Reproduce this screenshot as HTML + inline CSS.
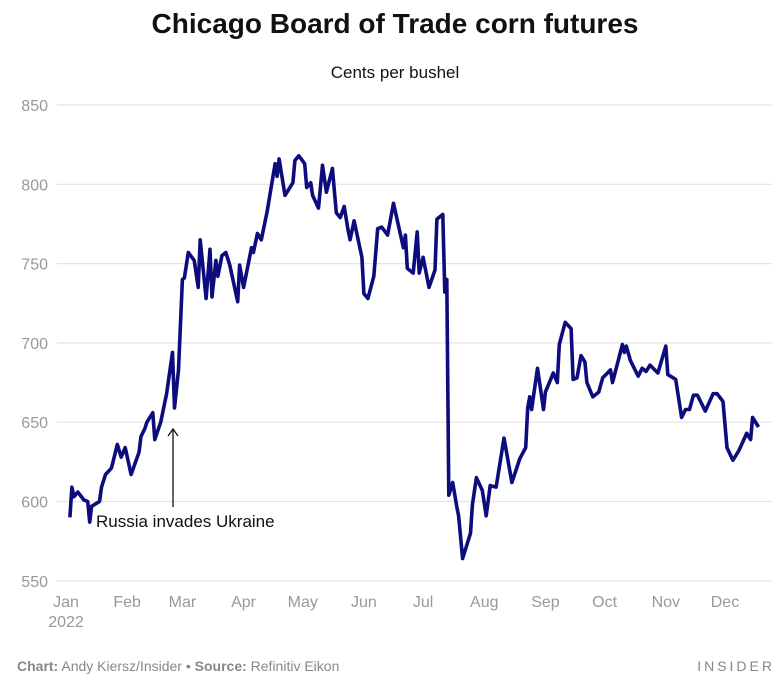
<!DOCTYPE html>
<html><head><meta charset="utf-8"><style>
body{margin:0;background:#fff;width:784px;height:683px;overflow:hidden;font-family:"Liberation Sans",sans-serif}
</style></head><body>
<svg id="chart" width="784" height="683" xmlns="http://www.w3.org/2000/svg" font-family="Liberation Sans, sans-serif">
<text x="395" y="33" text-anchor="middle" font-size="28" font-weight="bold" fill="#111">Chicago Board of Trade corn futures</text>
<text x="395" y="78" text-anchor="middle" font-size="17" fill="#111">Cents per bushel</text>
<g id="grid"></g><g id="yticks"></g><g id="xticks"></g>
<path id="line" fill="none" stroke="#0c0c7c" stroke-width="3.6" stroke-linejoin="round"/>
<g>
<line x1="173" y1="507" x2="173" y2="430" stroke="#111" stroke-width="1.3"/>
<polyline points="168,436 173,429 178,436" fill="none" stroke="#111" stroke-width="1.3"/>
<text x="96" y="527" font-size="17" fill="#111">Russia invades Ukraine</text>
</g>
<text x="66" y="627" text-anchor="middle" font-size="16" fill="#999">2022</text>
<text x="17" y="671" font-size="14" fill="#888"><tspan font-weight="bold">Chart:</tspan> Andy Kiersz/Insider • <tspan font-weight="bold">Source:</tspan> Refinitiv Eikon</text>
<text x="775" y="671" text-anchor="end" font-size="14" letter-spacing="3" fill="#888">INSIDER</text>
</svg>
<script>
const days=[2,3,4,6,9,11,12,13,17,18,20,23,24,26,28,30,33,37,38,40,41,44,45,48,51,54,55,57,59,60,62,65,67,68,71,73,74,76,77,79,81,83,87,88,90,94,95,97,99,102,106,107,108,111,115,116,118,121,122,124,125,128,130,132,135,137,139,141,143,144,146,150,151,153,156,158,160,163,166,171,172,173,176,178,179,181,184,187,188,191,192,193,194,196,198,199,201,205,206,208,211,213,215,218,222,226,230,233,234,235,236,239,242,243,247,249,250,253,256,257,259,261,263,264,267,270,272,276,277,282,283,284,286,290,292,294,296,300,304,305,309,312,314,316,318,320,324,328,330,333,335,338,341,345,347,348,351];
const prices=[590,609,603,606,601,600,587,597,600,609,617,621,626,636,628,634,617,631,641,646,650,656,639,650,668,694,659,683,740,741,757,752,735,765,728,759,729,752,742,755,757,749,726,749,735,760,757,769,765,783,813,805,816,793,801,815,818,813,798,801,793,785,812,795,810,782,779,786,771,765,777,754,731,728,742,772,773,768,788,760,768,747,744,770,744,754,735,746,778,781,732,740,604,612,597,591,564,580,598,615,607,591,610,609,640,612,627,634,659,666,658,684,658,669,681,675,699,713,709,677,678,692,688,675,666,669,678,683,675,699,694,698,689,679,684,682,686,681,698,680,677,653,658,658,667,667,657,668,668,663,634,626,632,643,639,653,647];
const yTicks=[550,600,650,700,750,800,850];
const months=["Jan","Feb","Mar","Apr","May","Jun","Jul","Aug","Sep","Oct","Nov","Dec"];
const monthStarts=[0,31,59,90,120,151,181,212,243,273,304,334];
const xS=d=>66+d*1.973, yS=v=>105+(850-v)*1.586;
const NS="http://www.w3.org/2000/svg";
const grid=document.getElementById('grid'),yt=document.getElementById('yticks'),xt=document.getElementById('xticks');
yTicks.forEach(v=>{
 const l=document.createElementNS(NS,'line');
 l.setAttribute('x1',57);l.setAttribute('x2',772);l.setAttribute('y1',yS(v));l.setAttribute('y2',yS(v));
 l.setAttribute('stroke','#e3e3e3');l.setAttribute('stroke-width','1.2');
 
 
 grid.appendChild(l);
 const t=document.createElementNS(NS,'text');
 t.setAttribute('x',48);t.setAttribute('y',yS(v)+6);t.setAttribute('text-anchor','end');
 t.setAttribute('font-size','16');t.setAttribute('font-weight','500');t.setAttribute('fill','#999');t.textContent=v;
 
 
 yt.appendChild(t);
});
months.forEach((m,i)=>{
 const t=document.createElementNS(NS,'text');
 t.setAttribute('x',xS(monthStarts[i]));t.setAttribute('y',607);t.setAttribute('text-anchor','middle');
 t.setAttribute('font-size','16');t.setAttribute('font-weight','500');t.setAttribute('fill','#999');t.textContent=m;
 
 
 xt.appendChild(t);
});
document.getElementById('line').setAttribute('d',days.map((d,i)=>(i?'L':'M')+xS(d).toFixed(1)+','+yS(prices[i]).toFixed(1)).join(''));
</script>
</body></html>
